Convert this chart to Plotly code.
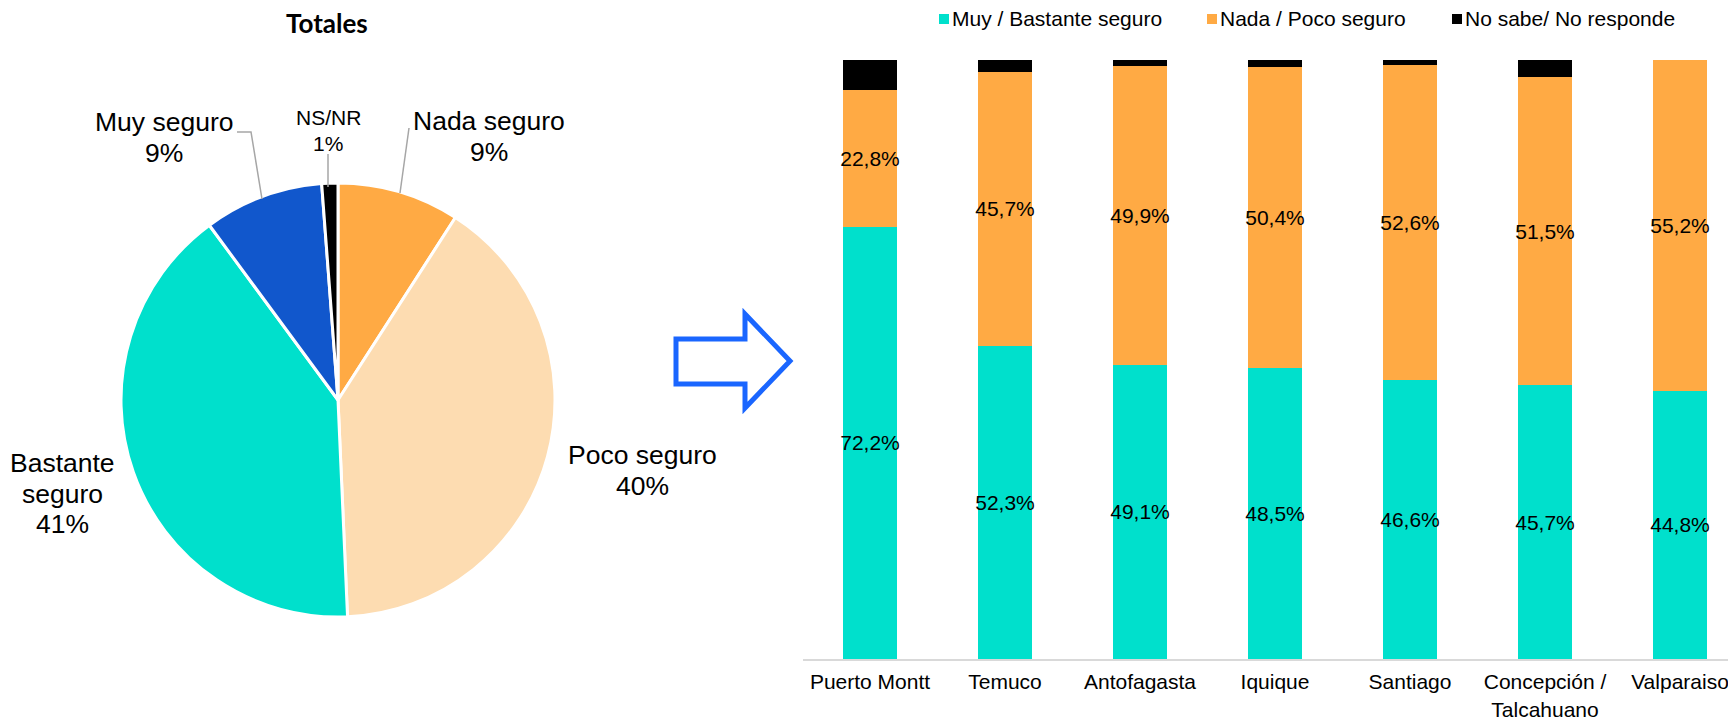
import plotly.graph_objects as go

W, H = 1736, 717
OFF = 8  # page body margin

# ---------------- data ----------------
pie_labels = ["Nada seguro", "Poco seguro", "Bastante seguro", "Muy seguro", "NS/NR"]
pie_values = [9.1, 40.2, 40.6, 8.9, 1.2]
pie_colors = ["#FFAA44", "#FDDCB1", "#00E0CC", "#1157CC", "#000000"]

cities = ["Puerto Montt", "Temuco", "Antofagasta", "Iquique", "Santiago",
          "Concepción /<br>Talcahuano", "Valparaiso"]
seguro = [72.2, 52.3, 49.1, 48.5, 46.6, 45.7, 44.8]
inseguro = [22.8, 45.7, 49.9, 50.4, 52.6, 51.5, 55.2]
nsnr = [5.0, 2.0, 1.0, 1.1, 0.8, 2.8, 0.0]
series_names = ["Muy / Bastante seguro", "Nada / Poco seguro", "No sabe/ No responde"]
series_colors = ["#00E0CC", "#FFAA44", "#000000"]


def px(x):
    return (x - OFF) / W


def py(y):
    return 1 - (y - OFF) / H


FONT = "Liberation Sans, Arial, sans-serif"

fig = go.Figure()

# ---------------- pie ----------------
fig.add_trace(go.Pie(
    labels=pie_labels, values=pie_values, sort=False, direction="clockwise",
    rotation=0, textinfo="none", hoverinfo="label+percent",
    marker=dict(colors=pie_colors, line=dict(color="white", width=3)),
    domain=dict(x=[px(121), px(555)], y=[py(617), py(183)]),
    showlegend=False,
))

# ---------------- stacked bars ----------------
for name, vals, col, lab in zip(series_names, [seguro, inseguro, nsnr], series_colors,
                                [True, True, False]):
    fig.add_trace(go.Bar(
        x=cities, y=vals, name=name, width=0.4,
        marker=dict(color=col, line=dict(width=0)),
        texttemplate="%{y:.1f}%" if lab else None,
        textposition="inside" if lab else "none",
        insidetextanchor="middle", textangle=0, constraintext="none",
        textfont=dict(family=FONT, size=21, color="black"),
        xaxis="x", yaxis="y", showlegend=False,
    ))

annotations = []
shapes = []

# title of pie
annotations.append(dict(text="<b>Totales</b>", x=px(327), y=py(23), xref="paper", yref="paper",
                        showarrow=False, xanchor="center", yanchor="middle",
                        font=dict(family="Lato, sans-serif", size=26, color="black")))

# pie labels (each line separately to mimic spacing)
pct = [f"{round(v)}%" for v in pie_values]
label_layout = {
    "Nada seguro": (489, [121, 152], ["Nada seguro"], 26.5),
    "Poco seguro": (642, [455, 486], ["Poco seguro"], 26.5),
    "Bastante seguro": (62, [463, 494, 524], ["Bastante", "seguro"], 26.5),
    "Muy seguro": (164, [122, 153], ["Muy seguro"], 26.5),
    "NS/NR": (328, [117, 143], ["NS/NR"], 21),
}
for lbl, p in zip(pie_labels, pct):
    cx, ys, lines, fs = label_layout[lbl]
    for txt, yy in zip(lines + [p], ys):
        annotations.append(dict(text=txt, x=px(cx), y=py(yy), xref="paper", yref="paper",
                                showarrow=False, xanchor="center", yanchor="middle",
                                font=dict(family=FONT, size=fs, color="black")))


# leader lines
def pline(pts):
    d = "M " + " L ".join(f"{px(a):.5f},{py(b):.5f}" for a, b in pts)
    return dict(type="path", path=d, xref="paper", yref="paper",
                line=dict(color="#A6A6A6", width=1.5))


shapes.append(pline([(237, 132), (251, 132), (262, 199)]))
shapes.append(pline([(328, 154), (328, 187)]))
shapes.append(pline([(409, 128), (400, 193)]))

# block arrow
arrow_pts = [(676, 339), (745, 339), (745, 314), (790, 361), (745, 408), (745, 384), (676, 384)]
d = "M " + " L ".join(f"{px(a):.5f},{py(b):.5f}" for a, b in arrow_pts) + " Z"
shapes.append(dict(type="path", path=d, xref="paper", yref="paper",
                   line=dict(color="#1A66FF", width=5), fillcolor="white"))

# legend (Excel style: small square right next to the text)
legend_square_x = [944, 1212, 1457]
for name, col, sx in zip(series_names, series_colors, legend_square_x):
    shapes.append(dict(type="rect", xref="paper", yref="paper",
                       x0=px(sx - 5), x1=px(sx + 5), y0=py(24), y1=py(14),
                       fillcolor=col, line=dict(width=0)))
    annotations.append(dict(text=name, x=px(sx + 6), y=py(19), xref="paper", yref="paper",
                            showarrow=False, xanchor="left", yanchor="middle",
                            font=dict(family=FONT, size=21, color="black")))

x0 = 802.5 - OFF
fig.update_layout(
    width=W, height=H, autosize=False,
    margin=dict(l=0, r=0, t=0, b=0),
    paper_bgcolor="white", plot_bgcolor="white",
    barmode="stack", separators=",.", showlegend=False,
    font=dict(family=FONT, color="black"),
    xaxis=dict(domain=[x0 / W, 1], range=[-0.5, -0.5 + (W - x0) / 135], type="category",
               showgrid=False, zeroline=False, showline=True, linecolor="#D9D9D9", linewidth=2,
               ticks="outside", ticklen=3, tickcolor="rgba(0,0,0,0)",
               tickfont=dict(family=FONT, size=21, color="black"), fixedrange=True,
               automargin=False),
    yaxis=dict(domain=[py(659), py(60)], range=[0, 100], visible=False, fixedrange=True),
    annotations=annotations, shapes=shapes,
)

fig.write_html("out.html")
